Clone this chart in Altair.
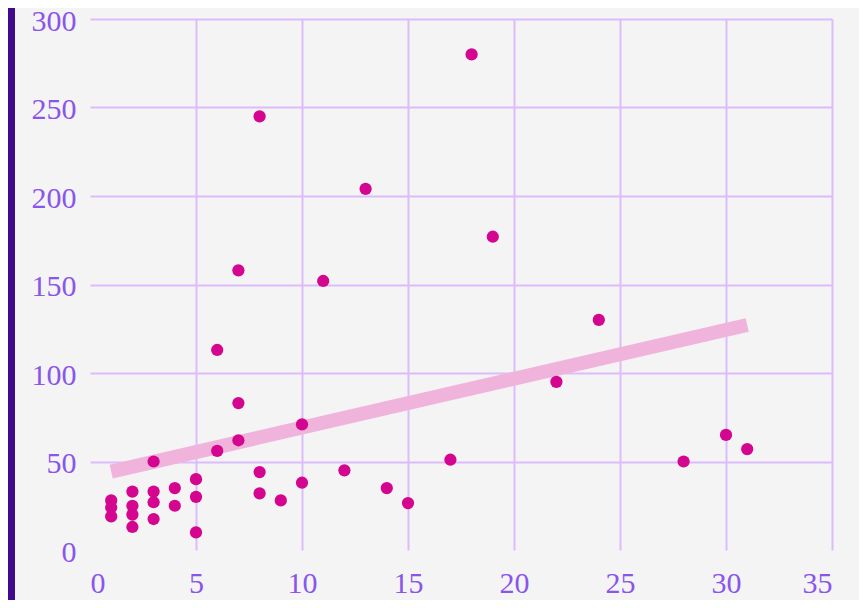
import altair as alt
import pandas as pd

x_vals = [1, 1, 1,
          2, 2, 2, 2,
          3, 3, 3, 3,
          4, 4,
          5, 5, 5,
          6, 6,
          7, 7, 7,
          8, 8, 8,
          9,
          10, 10,
          11, 12, 13, 14, 15, 17, 18, 19, 22, 24, 28, 30, 31]
y_vals = [28, 24, 19,
          33, 25, 20, 13,
          50, 33, 27, 17.5,
          35, 25,
          40, 30, 10,
          113, 56,
          158, 83, 62,
          245, 44, 32,
          28,
          71, 38,
          152, 45, 204, 35, 26.5, 51, 280, 177, 95, 130, 50, 65, 57]

x_ticks = [0, 5, 10, 15, 20, 25, 30, 35]
y_ticks = [0, 50, 100, 150, 200, 250, 300]

df = pd.DataFrame({"x": x_vals, "y": y_vals})

GRID = "#dcbcfa"
LABEL = "#8a55ea"
FONT = "Liberation Serif"

W, H = 742, 531
PAD_L, PAD_T = 82, 11

xs = alt.X("x:Q", scale=alt.Scale(domain=[0, 35], nice=False),
           axis=alt.Axis(values=x_ticks, title=None, domain=False, ticks=False,
                         labelFont=FONT, labelFontSize=30, labelColor=LABEL,
                         labelPadding=18, gridColor=GRID, gridWidth=2,
                         gridOpacity=alt.condition("datum.value == 0", alt.value(0), alt.value(1))))
ys = alt.Y("y:Q", scale=alt.Scale(domain=[0, 300], nice=False),
           axis=alt.Axis(values=y_ticks, title=None, domain=False, ticks=False,
                         labelFont=FONT, labelFontSize=30, labelColor=LABEL,
                         labelPadding=14, labelBaseline="middle", labelOffset=2,
                         labelFlush=False, gridColor=GRID, gridWidth=2,
                         gridOpacity=alt.condition("datum.value == 0", alt.value(0), alt.value(1))))

base = alt.Chart(df)

strip = alt.Chart(pd.DataFrame({"a": [0]})).mark_rect(color="#3f0a8c", clip=False).encode(
    x=alt.value(-PAD_L), x2=alt.value(-PAD_L + 7),
    y=alt.value(-PAD_T), y2=alt.value(H + 50))

trend = base.transform_regression("x", "y").mark_line(
    color="#f0b4dc", strokeWidth=14, strokeCap="butt").encode(x=xs, y=ys)

pts = base.mark_circle(size=150, color="#d4058f", opacity=1).encode(x=xs, y=ys)

chart = alt.layer(strip, trend, pts).properties(
    width=W, height=H,
    background="#f4f4f5",
    padding={"left": PAD_L, "top": PAD_T, "right": 27, "bottom": 50},
    autosize=alt.AutoSizeParams(type="none"),
).configure_view(stroke=None)

chart.save("out.html", embed_options={"renderer": "svg", "actions": False})
